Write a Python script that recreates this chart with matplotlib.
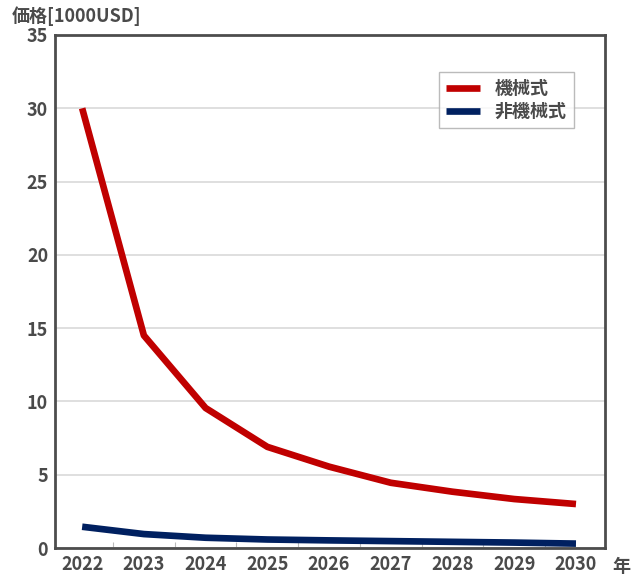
import matplotlib
matplotlib.use('Agg')
import matplotlib.pyplot as plt
import numpy as np

plt.rcParams['font.family'] = ['Noto Sans CJK JP', 'DejaVu Sans']

years = [2022, 2023, 2024, 2025, 2026, 2027, 2028, 2029, 2030]
mechanical = [30.0, 14.5, 9.55, 6.9, 5.55, 4.45, 3.84, 3.34, 3.0]
non_mechanical = [1.45, 0.95, 0.7, 0.58, 0.52, 0.47, 0.42, 0.37, 0.3]
series_labels = ['機械式', '非機械式']
y_ticks = [0, 5, 10, 15, 20, 25, 30, 35]

text_color = '#4a4a4a'
fs = 13

fig = plt.figure(figsize=(6.38, 5.78), dpi=100)
ax = fig.add_axes([55 / 638, 30 / 578, 550 / 638, 513 / 578])

ax.plot(years, mechanical, color='#C00000', lw=4.8, label=series_labels[0],
        solid_capstyle='butt')
ax.plot(years, non_mechanical, color='#002060', lw=4.8, label=series_labels[1],
        solid_capstyle='butt')

ax.set_xlim(2021.56, 2030.47)
ax.set_ylim(0, 35)
ax.set_yticks(y_ticks)
ax.set_xticks(years)
ax.set_xticks(np.array(years[:-1]) + 0.5, minor=True)
ax.yaxis.grid(True, color='#d9d9d9', lw=1.2)
ax.set_axisbelow(True)

ax.tick_params(axis='both', which='major', length=0, labelsize=fs,
               labelcolor=text_color, pad=5)
ax.tick_params(axis='x', which='minor', direction='in', length=4,
               color='#bbbbbb', width=0.8)
for lbl in ax.get_xticklabels() + ax.get_yticklabels():
    lbl.set_fontweight('bold')

for s in ax.spines.values():
    s.set_color('#4d4d4d')
    s.set_linewidth(2.0)

fig.text(12 / 638, 1 - 16 / 578, '価格[1000USD]', fontsize=fs,
         color=text_color, fontweight='bold', va='center', ha='left')
fig.text(621 / 638, 1 - 567 / 578, '年', fontsize=fs,
         color=text_color, fontweight='bold', va='center', ha='center')

leg = ax.legend(loc='upper right', bbox_to_anchor=(0.96, 0.945), fontsize=fs,
                frameon=True, fancybox=False, edgecolor='#aaaaaa',
                handlelength=1.9, handletextpad=0.8, borderpad=0.4,
                labelspacing=0.2)
leg.get_frame().set_linewidth(1.0)
for t in leg.get_texts():
    t.set_color(text_color)
    t.set_fontweight('bold')

fig.savefig('out.png', dpi=100)
